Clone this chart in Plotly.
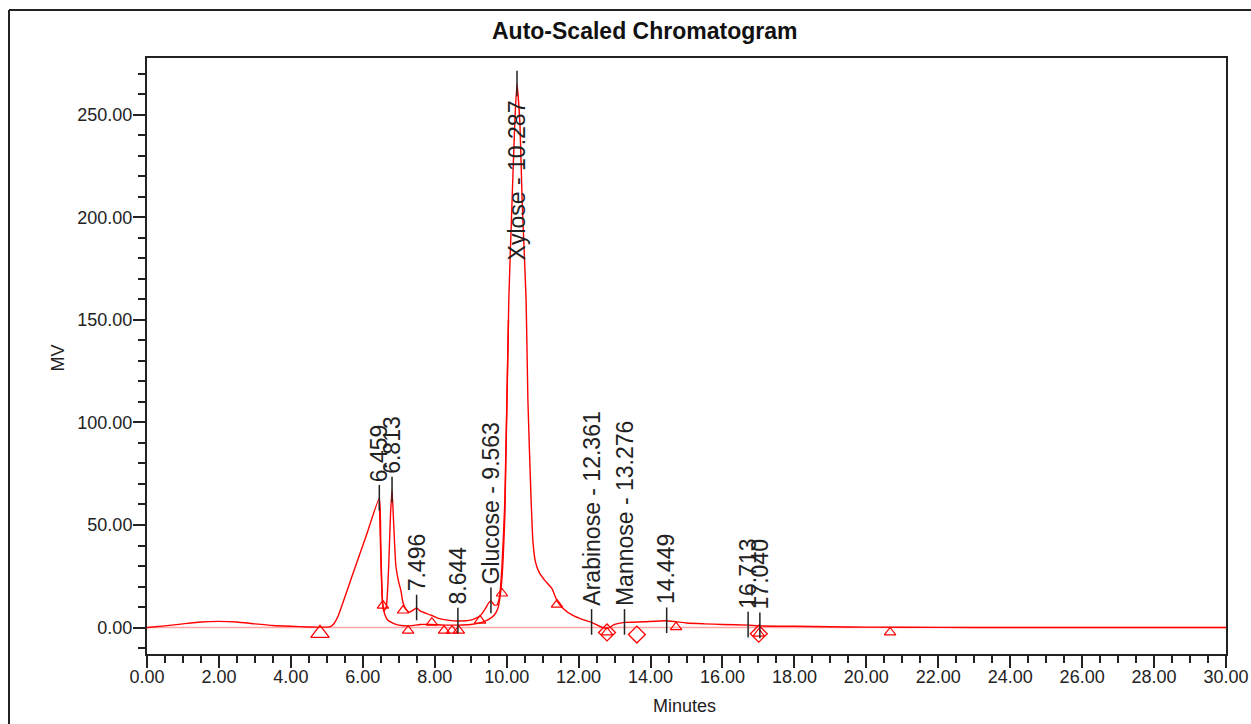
import plotly.graph_objects as go

# ---- main chromatogram (minutes, MV) ----
time_a = [0.0, 0.5, 1.0, 1.5, 2.0, 2.5, 3.0, 3.5, 4.0, 4.5, 5.0, 5.1, 5.2, 5.3, 5.7, 6.1,
          6.459, 6.5, 6.54, 6.58, 6.65, 6.72, 6.77, 6.813, 6.86, 6.92, 7.0, 7.06, 7.12, 7.2,
          7.3, 7.4, 7.496, 7.6, 7.75, 7.9, 8.1, 8.4, 8.644, 9.0, 9.25, 9.4, 9.5, 9.563, 9.65,
          9.73, 9.8, 9.87, 9.95, 10.06, 10.15, 10.23, 10.287, 10.37, 10.43, 10.54, 10.59,
          10.68, 10.73, 10.8, 10.9, 11.06, 11.26, 11.4, 11.57, 11.84, 12.1, 12.361, 12.6,
          12.8, 13.0, 13.276, 13.8, 14.449, 15.0, 15.5, 16.0, 16.713, 17.04, 18.0, 19.0,
          20.0, 22.0, 24.0, 26.0, 28.0, 30.0]
mv_a = [0.0, 0.8, 1.8, 2.7, 3.0, 2.7, 1.8, 1.0, 0.6, 0.3, 0.2, 0.4, 2.0, 5.0, 25.0, 45.0,
        63.0, 40.0, 15.0, 8.0, 10.0, 30.0, 55.0, 67.0, 50.0, 30.0, 22.0, 18.0, 12.0, 9.0,
        7.5, 8.5, 9.5, 8.0, 7.0, 6.0, 4.5, 3.5, 3.2, 3.6, 5.5, 9.0, 12.0, 13.0, 11.0,
        11.0, 15.0, 30.0, 62.0, 160.0, 208.0, 248.0, 265.0, 245.0, 208.0, 160.0, 111.0,
        62.0, 42.0, 32.0, 27.0, 23.0, 19.0, 13.0, 9.3, 5.9, 4.0, 2.5, 0.5,
        -0.5, 1.5, 2.5, 2.8, 3.3, 2.2, 1.8, 1.5, 1.2, 0.8, 0.6, 0.4,
        0.2, 0.1, 0.0, 0.0, 0.0, 0.0]

# ---- overlaid second trace (diverges after the 6.459 peak) ----
time_b = [6.459, 6.5, 6.55, 6.62, 6.7, 6.85, 7.0, 7.3, 7.6, 7.9, 8.3, 8.644, 9.0, 9.3,
          9.5, 9.65, 9.75, 9.85, 9.95, 10.05]
mv_b = [63.0, 35.0, 12.0, 6.0, 3.5, 2.0, 1.2, 0.8, 1.5, 1.5, 1.2, 1.2, 1.5, 2.5,
        4.0, 6.0, 9.0, 20.0, 55.0, 150.0]

# ---- integration baseline ----
base_t = [0.0, 30.0]
base_mv = [0.0, 0.0]

# ---- peak start / end markers ----
big_tri_t = [4.81]
big_tri_mv = [-2.8]
tri_t = [6.56, 7.12, 7.26, 7.92, 8.26, 8.48, 8.67, 9.26, 9.87, 11.40, 12.79, 14.71, 17.01, 20.66]
tri_mv = [10.7, 8.3, -1.5, 2.4, -1.5, -1.5, -1.5, 3.4, 16.6, 11.2, -2.4, 0.2, -3.0, -2.4]
dia_t = [12.79, 13.62, 17.01]
dia_mv = [-2.4, -3.4, -3.0]

# ---- peak labels ----
peak_names = ["6.459", "6.813", "7.496", "8.644", "Glucose - 9.563", "Xylose - 10.287",
              "Arabinose - 12.361", "Mannose - 13.276", "14.449", "16.713", "17.040"]
peak_rt = [6.459, 6.813, 7.496, 8.644, 9.563, 10.287, 12.361, 13.276, 14.449, 16.713, 17.040]
peak_apex = [63.0, 67.0, 9.5, 3.2, 13.0, 265.0, 2.5, 2.5, 3.3, 1.2, 0.8]

x_ticks = [0, 2, 4, 6, 8, 10, 12, 14, 16, 18, 20, 22, 24, 26, 28, 30]
y_ticks = [0, 50, 100, 150, 200, 250]

RED = "#ff0000"
INK = "#222222"
FONT = "Arial, Liberation Sans, sans-serif"

fig = go.Figure()
fig.add_trace(go.Scatter(x=base_t, y=base_mv, mode="lines",
                         line=dict(color="rgba(255,0,0,0.35)", width=1.5), hoverinfo="skip"))
fig.add_trace(go.Scatter(x=time_b, y=mv_b, mode="lines",
                         line=dict(color=RED, width=1.4, shape="spline", smoothing=0.5)))
fig.add_trace(go.Scatter(x=time_a, y=mv_a, mode="lines",
                         line=dict(color=RED, width=1.4, shape="spline", smoothing=0.5)))
fig.add_trace(go.Scatter(x=big_tri_t, y=big_tri_mv, mode="markers",
                         marker=dict(symbol="triangle-up-open", size=16, color=RED,
                                     line=dict(width=1.3, color=RED))))
fig.add_trace(go.Scatter(x=tri_t, y=tri_mv, mode="markers",
                         marker=dict(symbol="triangle-up-open", size=10, color=RED,
                                     line=dict(width=1.2, color=RED))))
fig.add_trace(go.Scatter(x=dia_t, y=dia_mv, mode="markers",
                         marker=dict(symbol="diamond-open", size=13, color=RED,
                                     line=dict(width=1.3, color=RED))))

shapes = []
annotations = []
for name, rt, ap in zip(peak_names, peak_rt, peak_apex):
    shapes.append(dict(type="line", xref="x", yref="y", x0=rt, x1=rt, y0=ap - 6, y1=ap + 6.5,
                       line=dict(color=INK, width=1.5)))
    if ap > 200:
        annotations.append(dict(x=rt, y=ap - 7, xref="x", yref="y", text=name, textangle=-90,
                                showarrow=False, xanchor="center", yanchor="top",
                                font=dict(size=23, color=INK, family=FONT)))
    else:
        annotations.append(dict(x=rt, y=ap + 7, xref="x", yref="y", text=name, textangle=-90,
                                showarrow=False, xanchor="center", yanchor="bottom",
                                font=dict(size=23, color=INK, family=FONT)))

# outer frame
shapes.append(dict(type="line", xref="paper", yref="paper", x0=-0.1279, x1=1.2, y0=1.0805, y1=1.0805,
                   line=dict(color=INK, width=2)))
shapes.append(dict(type="line", xref="paper", yref="paper", x0=-0.1279, x1=-0.1279, y0=1.0805, y1=-0.13,
                   line=dict(color=INK, width=2)))

annotations.append(dict(x=0.4615, y=1.0453, xref="paper", yref="paper", text="<b>Auto-Scaled Chromatogram</b>",
                        showarrow=False, xanchor="center", yanchor="middle",
                        font=dict(size=23, color="#111111", family=FONT)))
annotations.append(dict(x=0.4985, y=-0.0872, xref="paper", yref="paper", text="Minutes",
                        showarrow=False, xanchor="center", yanchor="middle",
                        font=dict(size=18, color=INK, family=FONT)))
annotations.append(dict(x=-0.082, y=0.4966, xref="paper", yref="paper", text="MV", textangle=-90,
                        showarrow=False, xanchor="center", yanchor="middle",
                        font=dict(size=18, color=INK, family=FONT)))

fig.update_layout(
    width=1251, height=724,
    margin=dict(l=147, r=25, t=58, b=70, autoexpand=False),
    paper_bgcolor="white", plot_bgcolor="white",
    showlegend=False,
    font=dict(family=FONT, size=18, color=INK),
    shapes=shapes, annotations=annotations,
    xaxis=dict(range=[0, 30], tickvals=x_ticks, tickformat=".2f", ticks="outside", ticklen=12,
               tickwidth=1.5, tickcolor=INK, showgrid=False, zeroline=False, automargin=False,
               showline=True, mirror=True, linecolor=INK, linewidth=2, ticklabelstandoff=-7,
               minor=dict(dtick=0.5, tick0=0, ticks="outside", ticklen=7, tickwidth=1.5, tickcolor=INK,
                          showgrid=False),
               tickfont=dict(size=18, color=INK, family=FONT)),
    yaxis=dict(range=[-12.9, 277.7], tickvals=y_ticks, tickformat=".2f", ticks="outside", ticklen=12,
               tickwidth=1.5, tickcolor=INK, showgrid=False, zeroline=False, automargin=False,
               showline=True, mirror=True, linecolor=INK, linewidth=2, ticklabelstandoff=-3,
               minor=dict(dtick=10, tick0=0, ticks="outside", ticklen=7, tickwidth=1.5, tickcolor=INK,
                          showgrid=False),
               tickfont=dict(size=18, color=INK, family=FONT)),
)

fig.write_html("out.html")
